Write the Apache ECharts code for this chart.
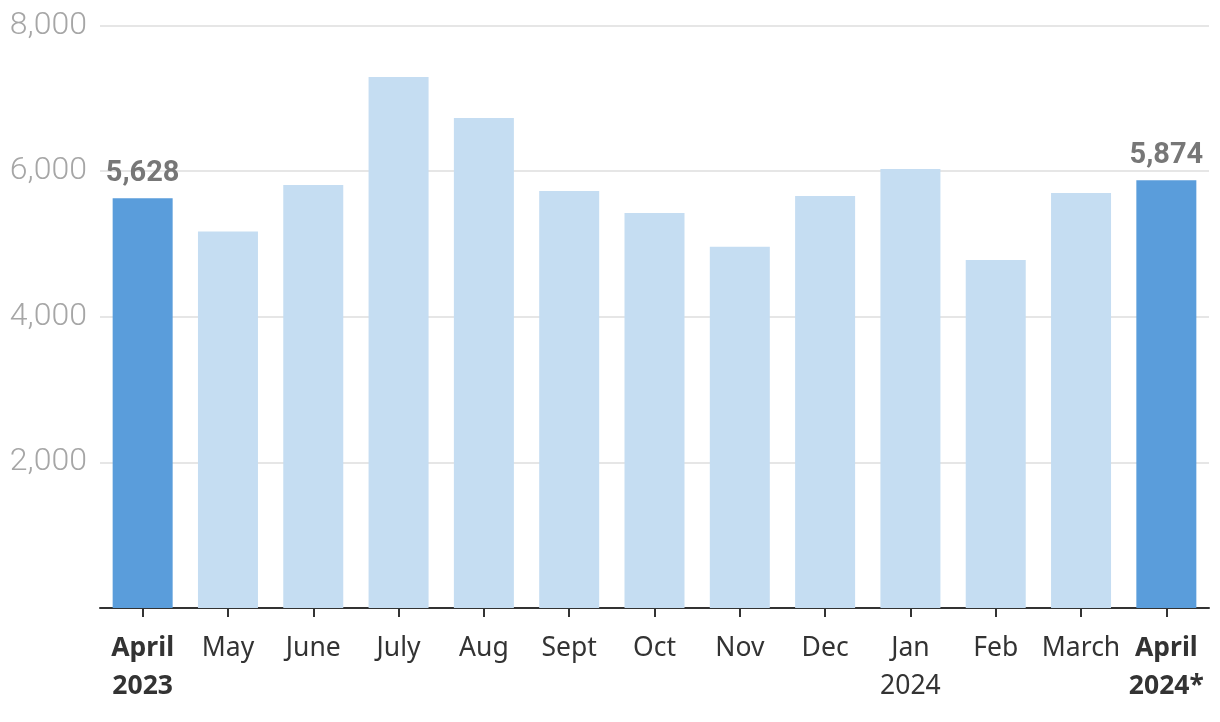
<!DOCTYPE html>
<html>
<head>
<meta charset="utf-8">
<script src="https://cdn.jsdelivr.net/npm/echarts@6/dist/echarts.min.js"></script>
<style>
html,body{margin:0;padding:0;background:#fff;}
#chart{width:1220px;height:722px;}
</style>
</head>
<body>
<div id="chart"></div>
<script>
const categories = ['April\n2023', 'May', 'June', 'July', 'Aug', 'Sept', 'Oct', 'Nov', 'Dec', 'Jan\n2024', 'Feb', 'March', 'April\n2024*'];
const values = [5628, 5170, 5811, 7293, 6730, 5728, 5426, 4960, 5660, 6030, 4781, 5701, 5874];
const highlighted = [0, 12];
const yTicks = [0, 2000, 4000, 6000, 8000];

const darkBlue = '#5a9ddb';
const lightBlue = '#c5ddf2';

const seriesData = values.map((v, i) => {
  const hi = highlighted.includes(i);
  return {
    value: v,
    itemStyle: { color: hi ? darkBlue : lightBlue },
    label: {
      show: hi,
      position: 'top',
      distance: 10,
      formatter: p => p.value.toLocaleString('en-US'),
      fontFamily: 'Roboto',
      fontWeight: 'bold',
      fontSize: 29,
      color: '#777777'
    }
  };
});

const chart = echarts.init(document.getElementById('chart'), null, { renderer: 'canvas' });
chart.setOption({
  animation: false,
  grid: { left: 100, right: 11, top: 25.5, bottom: 114, containLabel: false },
  xAxis: {
    type: 'category',
    data: categories,
    boundaryGap: true,
    axisLine: { show: true, lineStyle: { color: '#333333', width: 2 } },
    axisTick: { show: true, alignWithLabel: true, length: 9, lineStyle: { color: '#333333', width: 2 } },
    axisLabel: {
      interval: 0,
      margin: 21,
      fontFamily: 'Noto Sans',
      fontSize: 26.5,
      lineHeight: 38,
      color: '#333333',
      formatter: (val, idx) => highlighted.includes(idx)
        ? val.split('\n').map(s => '{b|' + s + '}').join('\n')
        : val,
      rich: {
        b: { fontFamily: 'Noto Sans', fontWeight: 'bold', fontSize: 26.5, lineHeight: 38, color: '#333333' }
      }
    }
  },
  yAxis: {
    type: 'value',
    min: yTicks[0],
    max: yTicks[yTicks.length - 1],
    interval: 2000,
    axisLine: { show: false },
    axisTick: { show: false },
    splitLine: { show: true, lineStyle: { color: '#e6e6e6', width: 2 } },
    axisLabel: {
      margin: 13,
      fontFamily: 'Roboto',
      fontWeight: 300,
      fontSize: 32,
      color: '#a6a6a6',
      padding: [4, 0, 0, 0],
      formatter: v => v === 0 ? '' : v.toLocaleString('en-US')
    }
  },
  series: [{
    type: 'bar',
    data: seriesData,
    barWidth: 60
  }]
});
</script>
</body>
</html>
